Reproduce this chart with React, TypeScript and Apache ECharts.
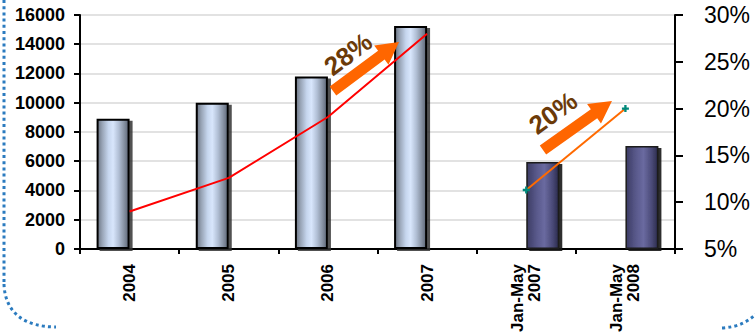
import React, { useEffect, useRef } from "react";
import * as echarts from "echarts";

// Categories on the horizontal axis
const categories = ["2004", "2005", "2006", "2007", "Jan-May\n2007", "Jan-May\n2008"];

// Bar values (left axis)
const annualValues: (number | null)[] = [8900, 10000, 11800, 15250, null, null];
const periodValues: (number | null)[] = [null, null, null, null, 5950, 7050];

// Percentage lines (right axis)
const annualPercent: (number | null)[] = [9, 12.6, 19.1, 28, null, null];
const periodPercent: (number | null)[] = [null, null, null, null, 11.3, 20];

// Axis ranges
const leftAxis = { min: 0, max: 16000, interval: 2000 };
const rightAxis = { min: 5, max: 30, interval: 5 };

// Growth call-outs
const growthLabels = ["28%", "20%"];

const FONT = '"Liberation Sans", Arial, sans-serif';

const lightBar = new echarts.graphic.LinearGradient(0, 0, 1, 0, [
  { offset: 0, color: "#6b7584" },
  { offset: 0.15, color: "#98a4b6" },
  { offset: 0.35, color: "#c6d6ee" },
  { offset: 0.5, color: "#d8e6fc" },
  { offset: 0.68, color: "#b2c0d6" },
  { offset: 0.85, color: "#8893a4" },
  { offset: 1, color: "#5d6676" },
]);

const darkBar = new echarts.graphic.LinearGradient(0, 0, 1, 0, [
  { offset: 0, color: "#3c3c64" },
  { offset: 0.3, color: "#58588a" },
  { offset: 0.55, color: "#6a6aa0" },
  { offset: 0.8, color: "#4c4c7a" },
  { offset: 1, color: "#2c2c4e" },
]);

function arrow(x0: number, y0: number, x1: number, y1: number) {
  const dx = x1 - x0;
  const dy = y1 - y0;
  const len = Math.sqrt(dx * dx + dy * dy);
  const headLen = 22;
  const headHalf = 12;
  const shaftHalf = 5.5;
  return {
    type: "group",
    x: x0,
    y: y0,
    rotation: -Math.atan2(dy, dx),
    children: [
      {
        type: "polygon",
        shape: {
          points: [
            [0, -shaftHalf],
            [len - headLen, -shaftHalf],
            [len - headLen, -headHalf],
            [len, 0],
            [len - headLen, headHalf],
            [len - headLen, shaftHalf],
            [0, shaftHalf],
          ],
        },
        style: { fill: "#ff6600" },
        z: 10,
      },
    ],
  };
}

function growthText(text: string, x: number, y: number, angle: number) {
  return {
    type: "text",
    x,
    y,
    rotation: (angle * Math.PI) / 180,
    z: 10,
    style: {
      text,
      fill: "#6b3a08",
      font: `bold 26px ${FONT}`,
      textAlign: "center",
      textVerticalAlign: "middle",
    },
  };
}

const dotted = {
  stroke: "#2b7bbf",
  lineWidth: 3,
  lineDash: [3, 3.2],
  fill: "none",
};

export default function App() {
  const ref = useRef<HTMLDivElement>(null);

  useEffect(() => {
    if (!ref.current) return;
    const chart = echarts.init(ref.current, undefined, { renderer: "svg" });
    chart.setOption({
      animation: false,
      backgroundColor: "#ffffff",
      grid: { left: 80, right: 80, top: 15, bottom: 86, containLabel: false },
      xAxis: {
        type: "category",
        data: categories,
        axisLine: { lineStyle: { color: "#000", width: 2 } },
        axisTick: { show: true, alignWithLabel: false, length: 5, lineStyle: { color: "#000", width: 2 } },
        axisLabel: {
          rotate: 90,
          margin: 15,
          color: "#000",
          fontWeight: "bold",
          fontSize: 17,
          fontFamily: FONT,
          lineHeight: 17,
          interval: 0,
        },
      },
      yAxis: [
        {
          type: "value",
          ...leftAxis,
          axisLine: { show: true, lineStyle: { color: "#000", width: 2 } },
          axisTick: { show: true, length: 6, lineStyle: { color: "#000", width: 2 } },
          axisLabel: {
            color: "#000",
            fontWeight: "bold",
            fontSize: 18,
            fontFamily: FONT,
            margin: 15,
            formatter: (v: number) => String(v),
          },
          splitLine: { show: true, lineStyle: { color: "#e2e2e2", width: 2 } },
        },
        {
          type: "value",
          position: "right",
          ...rightAxis,
          axisLine: { show: true, lineStyle: { color: "#000", width: 2 } },
          axisTick: { show: true, length: 8, lineStyle: { color: "#000", width: 2 } },
          axisLabel: { color: "#000", fontSize: 23, fontFamily: FONT, margin: 29, formatter: "{value}%" },
          splitLine: { show: false },
        },
      ],
      series: [
        {
          type: "bar",
          data: annualValues,
          barWidth: 33,
          barGap: "0%",
          itemStyle: {
            color: lightBar,
            borderColor: "#000",
            borderWidth: 2,
            shadowColor: "rgba(50,50,50,0.85)",
            shadowOffsetX: 3,
            shadowOffsetY: 2,
            shadowBlur: 0,
          },
        },
        {
          type: "bar",
          data: periodValues,
          barWidth: 33,
          itemStyle: {
            color: darkBar,
            borderColor: "#1a1a1a",
            borderWidth: 1.5,
            shadowColor: "rgba(20,20,20,0.9)",
            shadowOffsetX: 3,
            shadowOffsetY: 2,
            shadowBlur: 0,
          },
        },
        {
          type: "line",
          yAxisIndex: 1,
          data: annualPercent,
          showSymbol: false,
          symbol: "none",
          lineStyle: { color: "#ff0000", width: 2 },
          z: 5,
        },
        {
          type: "line",
          yAxisIndex: 1,
          data: periodPercent,
          symbol: "path://M2,0h2v2h2v2h-2v2h-2v-2h-2v-2h2z",
          symbolSize: 7,
          itemStyle: { color: "#00897b" },
          lineStyle: { color: "#ff6a00", width: 2 },
          z: 5,
        },
      ],
      graphic: [
        arrow(333, 91, 399, 42),
        growthText(growthLabels[0], 348, 54, 37),
        arrow(543, 150, 612, 101),
        growthText(growthLabels[1], 553, 113, 36),
        { type: "line", shape: { x1: 4, y1: 0, x2: 4, y2: 282 }, style: dotted, silent: true },
        {
          type: "bezierCurve",
          shape: { x1: 4, y1: 284, cpx1: 5, cpy1: 314, cpx2: 26, cpy2: 327, x2: 56, y2: 327 },
          style: dotted,
          silent: true,
        },
        {
          type: "bezierCurve",
          shape: { x1: 722, y1: 328, cpx1: 738, cpy1: 327, cpx2: 748, cpy2: 322, x2: 757, y2: 313 },
          style: dotted,
          silent: true,
        },
      ],
    });
    return () => chart.dispose();
  }, []);

  return (
    <div
      ref={ref}
      style={{ position: "fixed", left: 0, top: 0, width: 755, height: 335, background: "#fff" }}
    />
  );
}
